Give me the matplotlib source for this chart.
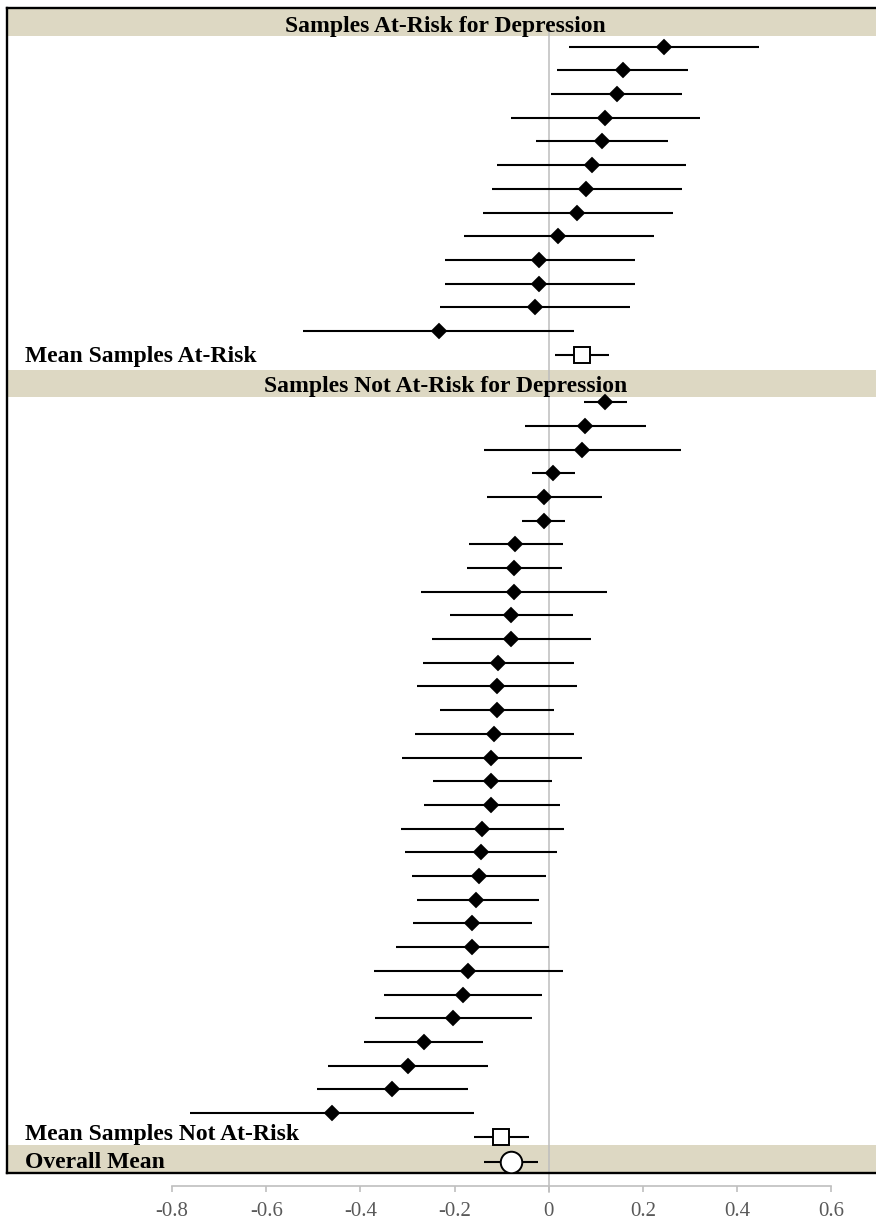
"""
Forest plot: effect sizes for samples at-risk / not at-risk for depression.
"""

import matplotlib
matplotlib.use("Agg")
import matplotlib.pyplot as plt

plt.rcParams["font.family"] = ["Liberation Serif", "DejaVu Serif"]

# --- data ---
at_risk_est = [0.244, 0.157, 0.144, 0.119, 0.112, 0.091, 0.079, 0.060, 0.020,
               -0.021, -0.021, -0.030, -0.233]
at_risk_lo = [0.042, 0.018, 0.005, -0.080, -0.027, -0.111, -0.120, -0.140, -0.181,
              -0.221, -0.221, -0.231, -0.522]
at_risk_hi = [0.446, 0.295, 0.283, 0.322, 0.253, 0.292, 0.282, 0.263, 0.223,
              0.183, 0.183, 0.172, 0.053]

not_risk_est = [0.119, 0.077, 0.071, 0.009, -0.011, -0.011, -0.071, -0.074, -0.074,
                -0.080, -0.080, -0.109, -0.111, -0.111, -0.117, -0.122, -0.122,
                -0.122, -0.142, -0.144, -0.149, -0.154, -0.163, -0.164, -0.171,
                -0.182, -0.203, -0.266, -0.299, -0.333, -0.461]
not_risk_lo = [0.074, -0.051, -0.138, -0.036, -0.132, -0.056, -0.170, -0.174, -0.271,
               -0.210, -0.248, -0.267, -0.280, -0.232, -0.284, -0.311, -0.247,
               -0.266, -0.315, -0.305, -0.290, -0.280, -0.289, -0.325, -0.371,
               -0.350, -0.369, -0.392, -0.469, -0.493, -0.762]
not_risk_hi = [0.166, 0.206, 0.281, 0.055, 0.113, 0.035, 0.029, 0.027, 0.124,
               0.051, 0.089, 0.053, 0.060, 0.011, 0.053, 0.071, 0.007,
               0.024, 0.033, 0.018, -0.005, -0.021, -0.035, 0.001, 0.029,
               -0.014, -0.035, -0.139, -0.130, -0.171, -0.158]

mean_at_risk = (0.071, 0.013, 0.128)      # est, lo, hi
mean_not_risk = (-0.101, -0.158, -0.043)
overall_mean = (-0.081, -0.138, -0.023)

header_labels = ["Samples At-Risk for Depression", "Samples Not At-Risk for Depression"]
summary_labels = ["Mean Samples At-Risk", "Mean Samples Not At-Risk", "Overall Mean"]
x_ticks = [-0.8, -0.6, -0.4, -0.2, 0, 0.2, 0.4, 0.6]
x_ticklabels = ["-0.8", "-0.6", "-0.4", "-0.2", "0", "0.2", "0.4", "0.6"]

BAND = "#ddd8c3"
FS = 17

# --- layout: one unit per row ---
n1 = len(at_risk_est)
n2 = len(not_risk_est)
y_risk = list(range(n1))
y_mean_risk = n1
y_not = list(range(n1 + 2, n1 + 2 + n2))
y_mean_not = n1 + 2 + n2
y_overall = y_mean_not + 1.06

fig = plt.figure(figsize=(8.76, 12.23), dpi=100)
ax = fig.add_axes([0.008, 0.04088, 0.992, 0.95274])
ax.set_xlim(-1.1506, 0.6947)
ax.set_ylim(y_overall + 0.47, -1.64)
ytr = ax.get_yaxis_transform()

# header / footer bands
ax.axhspan(-1.59, -0.46, color=BAND, lw=0, zorder=0)
ax.axhspan(y_not[0] - 1.35, y_not[0] - 0.21, color=BAND, lw=0, zorder=0)
ax.axhspan(y_overall - 0.72, y_overall + 0.5, color=BAND, lw=0, zorder=0)

ax.text(0.505, -0.63, header_labels[0], transform=ytr, ha="center",
        va="baseline", fontsize=FS, fontweight="bold", zorder=3)
ax.text(0.505, y_not[0] - 0.42, header_labels[1], transform=ytr, ha="center",
        va="baseline", fontsize=FS, fontweight="bold", zorder=3)

# zero reference line, running down to the tick axis
ax.axvline(0, ymin=-0.0163, ymax=0.985, color="#bdbdbd", lw=1.1, zorder=1,
           clip_on=False)

# study rows
for ys, est, lo, hi in [(y_risk, at_risk_est, at_risk_lo, at_risk_hi),
                        (y_not, not_risk_est, not_risk_lo, not_risk_hi)]:
    ax.hlines(ys, lo, hi, color="black", lw=1.5, zorder=2)
    ax.plot(est, ys, "D", color="black", markersize=7.8, mew=0.3, zorder=3)

# summary rows
summaries = [(mean_at_risk, y_mean_risk, "s", 11, 0.32),
             (mean_not_risk, y_mean_not, "s", 11, 0.13),
             (overall_mean, y_overall, "o", 15.5, 0.27)]
for label, ((est, lo, hi), y, mk, ms, dy) in zip(summary_labels, summaries):
    ax.hlines(y, lo, hi, color="black", lw=1.5, zorder=2)
    ax.plot(est, y, mk, mfc="white", mec="black", mew=1.4, markersize=ms, zorder=3)
    ax.text(0.0207, y + dy, label, transform=ytr, ha="left", va="baseline",
            fontsize=FS, fontweight="bold")

ax.set_xticks([])
ax.set_yticks([])
for side in ("top", "left", "bottom"):
    ax.spines[side].set_linewidth(1.7)
ax.spines["right"].set_visible(False)

# separate tick axis below the frame
ax2 = fig.add_axes([0.008, 0.03025, 0.992, 0.001])
ax2.set_xlim(ax.get_xlim())
ax2.patch.set_visible(False)
for side in ("top", "left", "right"):
    ax2.spines[side].set_visible(False)
ax2.spines["bottom"].set_color("#bfbfbf")
ax2.spines["bottom"].set_linewidth(1.2)
ax2.spines["bottom"].set_bounds(x_ticks[0], x_ticks[-1])
ax2.set_yticks([])
ax2.set_xticks(x_ticks)
ax2.set_xticklabels(x_ticklabels)
ax2.tick_params(axis="x", direction="out", length=4.5, width=1.2, color="#bfbfbf",
                labelcolor="#595959", labelsize=15, pad=7)

fig.savefig("out.png", dpi=100, facecolor="white")
